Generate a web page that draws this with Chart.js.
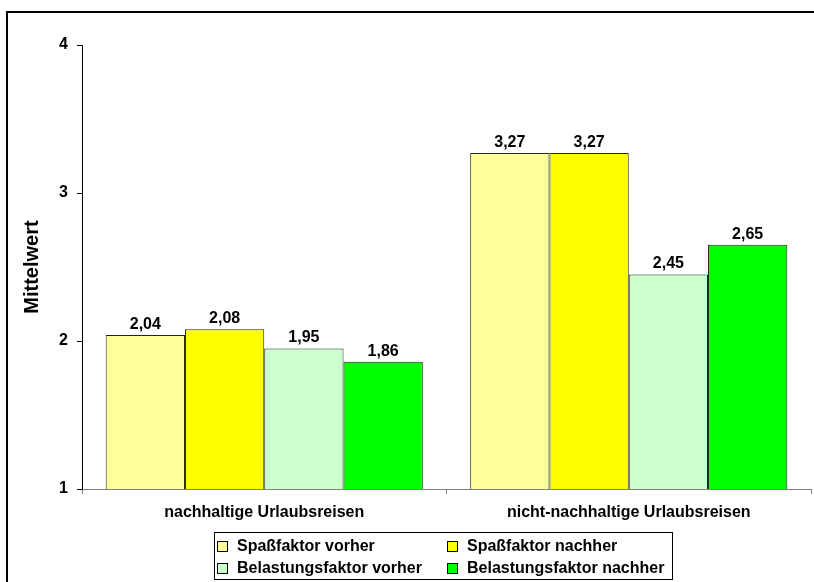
<!DOCTYPE html>
<html>
<head>
<meta charset="utf-8">
<script src="https://cdn.jsdelivr.net/npm/chart.js@4"></script>
<style>
  html, body { margin: 0; padding: 0; background: #fff; }
  #wrap { width: 814px; height: 582px; }
</style>
</head>
<body>
<div id="wrap"><canvas id="chart" width="814" height="582"></canvas></div>
<script>
const categories = ["nachhaltige Urlaubsreisen", "nicht-nachhaltige Urlaubsreisen"];
const seriesNames = ["Spaßfaktor vorher", "Spaßfaktor nachher", "Belastungsfaktor vorher", "Belastungsfaktor nachher"];
const spassVorher = [2.04, 3.27];
const spassNachher = [2.08, 3.27];
const belastungVorher = [1.95, 2.45];
const belastungNachher = [1.86, 2.65];
const yTicks = [1, 2, 3, 4];

const colors = ["#FFFF99", "#FFFF00", "#CCFFCC", "#00FF00"];
const FONT = "'Liberation Sans', Arial, sans-serif";

// frame round the whole chart, like the Excel chart area
const framePlugin = {
    id: "frame",
    beforeDraw(chart) {
        const ctx = chart.ctx;
        ctx.save();
        ctx.fillStyle = "#fff";
        ctx.fillRect(0, 0, chart.width, chart.height);
        ctx.strokeStyle = "#000";
        ctx.lineWidth = 2;
        ctx.strokeRect(7, 12, 900, 700);
        ctx.restore();
    }
};

// value labels above the bars, with a decimal comma
const valueLabels = {
    id: "valueLabels",
    afterDatasetsDraw(chart) {
        const ctx = chart.ctx;
        ctx.save();
        ctx.font = "bold 16px " + FONT;
        ctx.fillStyle = "#000";
        ctx.textAlign = "center";
        ctx.textBaseline = "alphabetic";
        chart.data.datasets.forEach((ds, i) => {
            chart.getDatasetMeta(i).data.forEach((bar, j) => {
                ctx.fillText(ds.data[j].toFixed(2).replace(".", ","), bar.x, bar.y - 6);
            });
        });
        ctx.restore();
    }
};

// boxed legend in two columns under the axis
const boxLegend = {
    id: "boxLegend",
    afterDraw(chart) {
        const ctx = chart.ctx;
        const box = { x: 214, y: 532, w: 458, h: 47 };
        const cols = [217, 447];
        const rows = [546, 568];
        ctx.save();
        ctx.strokeStyle = "#000";
        ctx.lineWidth = 1;
        ctx.strokeRect(box.x + 0.5, box.y + 0.5, box.w, box.h);
        ctx.font = "bold 16px " + FONT;
        ctx.textBaseline = "middle";
        ctx.textAlign = "left";
        chart.data.datasets.forEach((ds, i) => {
            const x = cols[i % 2];
            const y = rows[Math.floor(i / 2)];
            ctx.fillStyle = ds.backgroundColor;
            ctx.fillRect(x, y - 5, 10, 10);
            ctx.strokeStyle = "#000";
            ctx.strokeRect(x + 0.5, y - 4.5, 10, 10);
            ctx.fillStyle = "#000";
            ctx.fillText(ds.label, x + 20, y + 1);
        });
        ctx.restore();
    }
};

const seriesData = [spassVorher, spassNachher, belastungVorher, belastungNachher];

new Chart("chart", {
    type: "bar",
    data: {
        labels: categories,
        datasets: seriesNames.map((name, i) => ({
            label: name,
            data: seriesData[i],
            backgroundColor: colors[i],
            borderColor: "#222",
            borderWidth: 1,
            borderSkipped: "bottom",
            categoryPercentage: 0.87,
            barPercentage: 1.0
        }))
    },
    options: {
        responsive: false,
        animation: false,
        layout: { padding: { top: 45, right: 3, left: 0, bottom: 0 } },
        plugins: {
            legend: { display: false },
            tooltip: { enabled: false }
        },
        scales: {
            x: {
                afterFit(scale) { scale.height = 93; },
                border: { color: "#808080", width: 1 },
                grid: { offset: true, drawOnChartArea: false, tickLength: 5, color: "#808080" },
                ticks: {
                    color: "#000",
                    padding: 9,
                    font: { family: FONT, size: 16, weight: "bold" }
                }
            },
            y: {
                min: yTicks[0],
                max: yTicks[yTicks.length - 1],
                afterFit(scale) { scale.width = 82; },
                border: { color: "#000", width: 1 },
                grid: { drawOnChartArea: false, tickLength: 5, color: "#000" },
                ticks: {
                    stepSize: 1,
                    color: "#000",
                    padding: 9,
                    font: { family: FONT, size: 16, weight: "bold" }
                },
                title: {
                    display: true,
                    text: "Mittelwert",
                    color: "#000",
                    padding: { top: 20, bottom: 0 },
                    font: { family: FONT, size: 20, weight: "bold" }
                }
            }
        }
    },
    plugins: [framePlugin, valueLabels, boxLegend]
});
</script>
</body>
</html>
